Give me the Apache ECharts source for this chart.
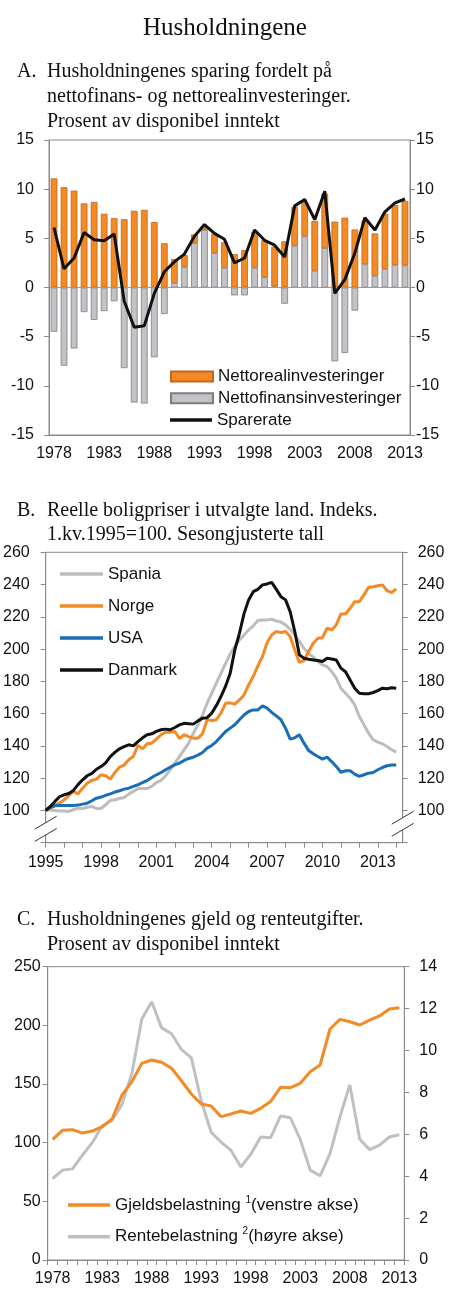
<!DOCTYPE html>
<html>
<head>
<meta charset="utf-8">
<script src="https://cdn.jsdelivr.net/npm/echarts@6/dist/echarts.min.js"></script>
<style>
html,body{margin:0;padding:0;background:#fff;}
#c{width:450px;height:1307px;}
</style>
</head>
<body>
<div id="c"></div>
<script>
// ---------- Panel A data ----------
var aarA = [];
for (var y = 1978; y <= 2013; y++) aarA.push(String(y));
var nettoreal = [11.1,10.2,9.85,8.55,8.7,7.5,7.05,6.95,7.8,7.9,6.65,4.5,2.45,1.2,0.9,0.35,1.95,2.6,3.4,3.8,3.65,3.75,4.05,4.7,3.95,3.5,5.05,5.55,6.7,7.1,5.9,4.45,4.3,5.6,6.1,6.55];
var nettofinans = [-4.5,-7.95,-6.2,-2.5,-3.3,-2.4,-1.4,-8.2,-11.7,-11.8,-7.1,-2.7,0.45,2.1,4.5,5.85,3.5,2.0,-0.8,-0.8,2.0,1.05,0.1,-1.65,4.25,5.2,1.7,4.0,-7.5,-6.65,-2.35,2.35,1.2,1.9,2.3,2.25];
var sparerate = [6.1,1.9,3.0,5.6,4.85,4.75,5.45,-1.4,-4.05,-3.9,-0.6,1.6,2.6,3.4,5.2,6.4,5.5,4.9,2.5,3.0,5.85,4.8,4.3,3.1,8.3,8.95,6.9,9.8,-0.6,0.8,3.5,7.1,5.85,7.7,8.6,9.0];

// ---------- Panel B data (quarterly, 1995K1 - 2014K1) ----------
var kvartaler = [];
for (var q = 0; q < 77; q++) kvartaler.push((1995 + Math.floor(q/4)) + 'K' + (q%4 + 1));
var spania = [100,100.4,100,99.6, 99.6,99.4,100.4,101.4, 101.2,102,102.5,101.2, 101.2,103.5,106.2,106.6, 107.4,108,110.1,111.8, 113.6,113.6,113.6,114.9, 117.3,118.6,121.5,125.2, 129.3,133.4,137.6,141.7, 147.9,153.1,159.2,166.5, 172.7,178.9,185,191.2, 197,201.6,205.7,208.8, 211.9,214.4,217.7,218.1, 218.1,218.5,217.5,216.8, 215,212.3,208.8,204.7, 200.5,197.4,195,192.3, 190.2,189.2,186.1,182, 175.8,172.7,169.6,165.4, 158.2,153.1,147.9,143.8, 142.3,141.3,139.6,137.6, 136.1];
var norge = [100,101.4,103.1,104.5, 106.6,109.1,111.8,110.3, 113.8,116.9,118.6,119.4, 122.1,121.5,119.4,123.5, 126.8,128.1,131.4,133.4, 140.3,138.2,141.3,141.7, 144.2,146.9,148.5,148.5, 148.9,144.6,146.9,145.8, 144.8,144.8,147.5,156.2, 155.7,156.2,160.3,166.5, 166.7,165.9,168.5,171.6, 177.8,183,189.6,195.4, 204,208.8,210.9,210.2, 210.9,207.8,199.5,191.7, 192.9,198.5,203.6,206.7, 207.1,212.9,211.9,215, 221.8,221.8,225.3,229.4, 229.4,233.6,238.3,238.7, 239.3,239.8,236.3,235, 237.3];
var usa = [100,101.9,102.9,103.1, 103.1,103.1,103.1,103.3, 103.9,104.5,106,107.6, 108.3,109.3,110.3,111.4, 112.2,113.2,113.8,114.9, 115.9,117.3,118.6,120.4, 122.1,123.5,125.2,126.8, 128.3,129.3,131,132.2, 133,134.3,135.9,138.6, 140.3,142.7,145.8,148.9, 151,153.1,156.2,159.2, 161.3,162.3,162.3,164.8, 163.4,160.7,158.6,156.2, 151,144.2,145,146.9, 141.7,137.2,135.1,133.4, 131.8,133,130.3,127.2, 123.7,124.6,124.6,122.5, 121.1,122.1,123.1,123.5, 125.2,126.6,127.7,128.1, 128.1];
var danmark = [100,102.5,105.6,108.5, 109.7,110.5,112.4,116, 119,121.5,123,125.5, 127.2,129.5,133.4,136, 138.2,139.5,140.7,140, 142.7,145,146.9,147.5, 149,150,150.4,150, 151.4,153,154,153.8, 153.5,155.5,157.2,157.5, 160.3,165,170.6,177, 185,199.5,209.8,222, 230.5,235.6,237,239.8, 240.4,241.4,237,232.5, 230.5,223.2,210.9,196.4, 194.3,193.7,193.3,192.9, 192.3,194.3,193.9,193.3, 188.2,186,180.9,175.8, 172.7,172.3,172.3,173.1, 174.3,175.8,175.4,176, 175.8];

// ---------- Panel C data ----------
var aarC = aarA.slice();
var gjeld = [102.8,110.5,111.1,108.2,109.9,113.6,120.2,140.6,152,167.6,170.5,168.5,163.4,152.8,141.5,133,131.3,122.2,124.5,127,125,129.3,135,147.2,146.9,150.6,160.5,166.2,196.9,205.1,203.1,200.3,204.5,208,213.9,215];
var rente = [3.89,4.29,4.35,5.0,5.6,6.4,6.67,7.43,8.9,11.5,12.33,11.08,10.8,10.05,9.65,7.6,6.1,5.63,5.24,4.44,5.05,5.87,5.84,6.87,6.79,5.75,4.29,4.02,5.08,6.83,8.37,5.76,5.27,5.48,5.87,5.98];

// ---------- styles ----------
var SANS = 'Liberation Sans, Arial, sans-serif';
var SERIF = 'Liberation Serif, Times New Roman, serif';
var ORANGE = '#F28A25';
var AXC = '#8a8a8a';
var LBL = {color:'#111', fontFamily:SANS, fontSize:16};
var LEGTXT = {fontFamily:SANS, fontSize:17, color:'#111', lineHeight:20};

function yAx(grid, min, max, intv, pos, margin, fmt) {
  return {type:'value', gridIndex:grid, min:min, max:max, interval:intv, position:pos,
    axisLine:{show:true, lineStyle:{color:AXC, width:1}},
    axisTick:{show:true, inside:false, length:5, lineStyle:{color:AXC}},
    axisLabel:Object.assign({margin:margin, formatter:fmt}, LBL),
    splitLine:{show:false}};
}

var quarterX = function (arr) { return arr.map(function (v, i) { return [1995 + i/4, v]; }); };

var titleBase = {padding:0, textStyle:{fontFamily:SERIF, fontWeight:'normal', color:'#111', fontSize:20, lineHeight:25}};
function ttl(text, left, top, extra) {
  var t = JSON.parse(JSON.stringify(titleBase));
  t.text = text; t.left = left; t.top = top;
  if (extra) Object.assign(t.textStyle, extra);
  return t;
}
function lineItems(names) {
  return names.map(function (n) { return {name:n, icon:'rect'}; });
}

var option = {
  animation:false,
  backgroundColor:'#fff',
  title:[
    ttl('Husholdningene', 'center', 13, {fontSize:25, lineHeight:30}),
    ttl('A.', 17, 59.5),
    ttl('Husholdningenes sparing fordelt på\nnettofinans- og nettorealinvesteringer.\nProsent av disponibel inntekt', 47, 59.5),
    ttl('B.', 17, 498.5, {lineHeight:24}),
    ttl('Reelle boligpriser i utvalgte land. Indeks.\n1.kv.1995=100. Sesongjusterte tall', 47, 498.5, {lineHeight:24}),
    ttl('C.', 17, 907.5),
    ttl('Husholdningenes gjeld og renteutgifter.\nProsent av disponibel inntekt', 47, 907.5)
  ],
  grid:[
    {left:49, width:361, top:140, height:295, show:true, borderColor:AXC, borderWidth:1, backgroundColor:'transparent'},
    {left:43.3, width:359.4, top:552.3, height:290.4, show:true, borderColor:AXC, borderWidth:1, backgroundColor:'transparent'},
    {left:47.7, width:356.6, top:966.7, height:293.3, show:true, borderColor:AXC, borderWidth:1, backgroundColor:'transparent'}
  ],
  legend:[
    {orient:'vertical', left:170, top:366.5, padding:0, itemWidth:42, itemHeight:10, itemGap:1.7,
     textStyle:LEGTXT,
     data:[{name:'Nettorealinvesteringer', icon:'rect'}, {name:'Nettofinansinvesteringer', icon:'rect'}]},
    {orient:'vertical', left:170, top:409.9, padding:0, itemWidth:42, itemHeight:3.5,
     textStyle:LEGTXT, data:lineItems(['Sparerate'])},
    {orient:'vertical', left:60, top:564, padding:0, itemWidth:43, itemHeight:3.5, itemGap:12,
     textStyle:LEGTXT, data:lineItems(['Spania','Norge','USA','Danmark'])},
    {orient:'vertical', left:68, top:1195, padding:0, itemWidth:42, itemHeight:3.5, itemGap:11.7,
     textStyle:{fontFamily:SANS, fontSize:17, color:'#111', lineHeight:20,
       rich:{t:{fontFamily:SANS, fontSize:17, color:'#111', lineHeight:20},
             s:{fontFamily:SANS, fontSize:10, color:'#111', lineHeight:10, verticalAlign:'top'}}},
     formatter:function (name) {
       if (name === 'Gjeldsbelastning') return '{t|Gjeldsbelastning }{s|1}{t|(venstre akse)}';
       return '{t|Rentebelastning }{s|2}{t|(høyre akse)}';
     },
     data:lineItems(['Gjeldsbelastning','Rentebelastning'])}
  ],
  xAxis:[
    {type:'category', gridIndex:0, data:aarA, boundaryGap:true,
     axisLine:{show:true, onZero:false, lineStyle:{color:AXC}}, axisTick:{show:false},
     axisLabel:Object.assign({interval:4, margin:11}, LBL), splitLine:{show:false}},
    {type:'value', gridIndex:1, min:1995, max:2014.35, interval:1,
     axisLine:{show:true, onZero:false, lineStyle:{color:AXC}},
     axisTick:{show:true, length:5, lineStyle:{color:AXC}},
     axisLabel:Object.assign({margin:12, showMaxLabel:false,
       formatter:function (v) { return ((v - 1995) % 3 === 0) ? String(v) : ''; }}, LBL),
     splitLine:{show:false}},
    {type:'category', gridIndex:2, data:aarC, boundaryGap:true,
     axisLine:{show:true, onZero:false, lineStyle:{color:AXC}},
     axisTick:{show:true, interval:0, length:5, lineStyle:{color:AXC}},
     axisLabel:Object.assign({interval:4, margin:11}, LBL), splitLine:{show:false}}
  ],
  yAxis:[
    yAx(0, -15, 15, 5, 'left', 15),
    yAx(0, -15, 15, 5, 'right', 6),
    yAx(1, 80, 260, 20, 'left', 16, function (v) { return v === 80 ? '' : String(v); }),
    yAx(1, 80, 260, 20, 'right', 15, function (v) { return v === 80 ? '' : String(v); }),
    yAx(2, 0, 250, 50, 'left', 7),
    yAx(2, 0, 14, 2, 'right', 15)
  ],
  series:[
    {name:'Nettofinansinvesteringer', type:'bar', xAxisIndex:0, yAxisIndex:0, stack:'A', data:nettofinans,
     barCategoryGap:'33%', itemStyle:{color:'#C3C3C7', borderColor:'#7d7d80', borderWidth:0.8}},
    {name:'Nettorealinvesteringer', type:'bar', xAxisIndex:0, yAxisIndex:0, stack:'A', data:nettoreal,
     barCategoryGap:'33%', itemStyle:{color:ORANGE, borderColor:'#C4661A', borderWidth:0.8}},
    {name:'Sparerate', type:'line', xAxisIndex:0, yAxisIndex:0, data:sparerate, symbol:'none', z:5,
     lineStyle:{color:'#111', width:3}, itemStyle:{color:'#111'},
     markLine:{silent:true, symbol:'none', z:4, label:{show:false},
       lineStyle:{color:'#9a9a9a', type:'solid', width:1.2}, data:[{yAxis:0}]}},

    {name:'Spania', type:'line', xAxisIndex:1, yAxisIndex:2, data:quarterX(spania), symbol:'none',
     lineStyle:{color:'#BDBDBD', width:3}, itemStyle:{color:'#BDBDBD'}},
    {name:'Norge', type:'line', xAxisIndex:1, yAxisIndex:2, data:quarterX(norge), symbol:'none',
     lineStyle:{color:ORANGE, width:3}, itemStyle:{color:ORANGE}},
    {name:'USA', type:'line', xAxisIndex:1, yAxisIndex:2, data:quarterX(usa), symbol:'none',
     lineStyle:{color:'#1A6DB6', width:3}, itemStyle:{color:'#1A6DB6'}},
    {name:'Danmark', type:'line', xAxisIndex:1, yAxisIndex:2, data:quarterX(danmark), symbol:'none',
     lineStyle:{color:'#111', width:3}, itemStyle:{color:'#111'}},

    {name:'Rentebelastning', type:'line', xAxisIndex:2, yAxisIndex:5, data:rente, symbol:'none',
     lineStyle:{color:'#C0C0C0', width:3}, itemStyle:{color:'#C0C0C0'}},
    {name:'Gjeldsbelastning', type:'line', xAxisIndex:2, yAxisIndex:4, data:gjeld, symbol:'none',
     lineStyle:{color:ORANGE, width:3}, itemStyle:{color:ORANGE}}
  ]
};

var chart = echarts.init(document.getElementById('c'), null, {renderer:'canvas', width:450, height:1307});
chart.setOption(option);

// axis-break marks on panel B
function breakMarks(xVal, yAxisIndex, v1, v2) {
  var p1 = chart.convertToPixel({xAxisIndex:1, yAxisIndex:yAxisIndex}, [xVal, v1]);
  var p2 = chart.convertToPixel({xAxisIndex:1, yAxisIndex:yAxisIndex}, [xVal, v2]);
  var dx = 11, dy = 6.5;
  var els = [];
  els.push({type:'polygon', silent:true, z:100,
    shape:{points:[[p1[0]-dx, p1[1]+dy],[p1[0]+dx, p1[1]-dy],[p2[0]+dx, p2[1]-dy],[p2[0]-dx, p2[1]+dy]]},
    style:{fill:'#fff', stroke:null}});
  [p1, p2].forEach(function (p) {
    els.push({type:'line', silent:true, z:101,
      shape:{x1:p[0]-dx, y1:p[1]+dy, x2:p[0]+dx, y2:p[1]-dy},
      style:{stroke:'#333', lineWidth:1}});
  });
  return els;
}
var g = [].concat(breakMarks(1995, 2, 92.4, 84.8), breakMarks(2014.35, 3, 95.5, 88));
chart.setOption({graphic:g});
</script>
</body>
</html>
